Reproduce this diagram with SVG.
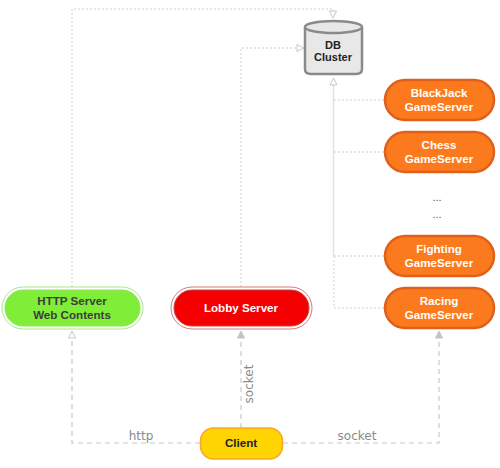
<svg xmlns="http://www.w3.org/2000/svg" width="500" height="468" viewBox="0 0 500 468">
<style>
text{font-family:"Liberation Sans",Arial,sans-serif;text-anchor:middle}
.b{font-size:11.6px;font-weight:bold}
.db{font-size:11px;font-weight:bold;fill:#222}
.w{fill:#fff}
.d{fill:#3c3c3c}
.l{font-size:12px;fill:#8a8a8a;font-family:"DejaVu Sans",sans-serif}
.g rect{fill:#fb7a1e;stroke:#e0601a;stroke-width:2.5}
.c{fill:none;stroke:#c8c8c8;stroke-width:1.2;stroke-dasharray:5 4}
.t{fill:none;stroke:#d0d0d0;stroke-width:1;stroke-dasharray:2 2}
</style>
<defs>
<marker id="h" markerUnits="userSpaceOnUse" markerWidth="9" markerHeight="10" refX="8" refY="4.5" orient="auto"><path d="M1,1L8,4.5L1,8Z" fill="#fff" stroke="#c8c8c8"/></marker>
<marker id="f" markerUnits="userSpaceOnUse" markerWidth="9" markerHeight="10" refX="8" refY="4.5" orient="auto"><path d="M1,1L8,4.5L1,8Z" fill="#c4c4c4" stroke="#c4c4c4"/></marker>
</defs>
<rect width="500" height="468" fill="#fff"/>
<g id="connectors">
<path class="t" d="M72,287V9H333V18" marker-end="url(#h)"/>
<path class="t" d="M241,287V48H304" marker-end="url(#h)"/>
<path d="M333.500,256V78" fill="none" stroke="#e2e2e2" stroke-width="1.500" marker-end="url(#h)"/>
<path class="t" d="M334,100H384M334,152H384M334,256H384M384,308H334V256"/>
<path class="c" d="M200,443H72V331" marker-end="url(#h)"/>
<path class="c" d="M241,428V331" marker-end="url(#f)"/>
<path class="c" d="M283,443H439V331" marker-end="url(#f)"/>
</g>
<text class="l" x="141" y="440">http</text>
<text class="l" x="357" y="440">socket</text>
<text class="l" transform="translate(253,384) rotate(-90)">socket</text>
<g id="http-server">
<rect x="2" y="287" width="141" height="42" rx="21" fill="#fff" stroke="#a8e88a"/>
<rect x="5" y="290" width="135" height="36" rx="18" fill="#80ee38" stroke="#8fe060"/>
<text class="b d" x="72" y="305">HTTP Server</text><text class="b d" x="72" y="319">Web Contents</text>
</g>
<g id="lobby-server">
<rect x="171" y="287" width="141" height="42" rx="21" fill="#fff" stroke="#d67a7a"/>
<rect x="174" y="290" width="135" height="36" rx="18" fill="#f50000" stroke="#c84040"/>
<text class="b w" x="241" y="312">Lobby Server</text>
</g>
<g id="client">
<rect x="200.500" y="428" width="82" height="31" rx="13" fill="#ffd400" stroke="#f9a825" stroke-width="1.500"/>
<text class="b" x="241" y="447" fill="#222">Client</text>
</g>
<g id="db-cluster">
<path d="M305,28V69Q305,74 311,74H356Q362,74 362,69V28Z" fill="#e8e8e8" stroke="#8a8a8a" stroke-width="2.500"/>
<ellipse cx="333.500" cy="27" rx="28.500" ry="6" fill="#e8e8e8" stroke="#8a8a8a" stroke-width="2.500"/>
<text class="db" x="333" y="49">DB</text><text class="db" x="333" y="61">Cluster</text>
</g>
<g id="blackjack" class="g"><rect x="385" y="80" width="109" height="40" rx="20"/><text class="b w" x="439" y="97">BlackJack</text><text class="b w" x="439" y="111">GameServer</text></g>
<g id="chess" class="g"><rect x="385" y="132" width="109" height="40" rx="20"/><text class="b w" x="439" y="149">Chess</text><text class="b w" x="439" y="163">GameServer</text></g>
<g id="fighting" class="g"><rect x="385" y="236" width="109" height="40" rx="20"/><text class="b w" x="439" y="253">Fighting</text><text class="b w" x="439" y="267">GameServer</text></g>
<g id="racing" class="g"><rect x="385" y="288" width="109" height="40" rx="20"/><text class="b w" x="439" y="305">Racing</text><text class="b w" x="439" y="319">GameServer</text></g>
<text x="437" y="201" font-size="11" fill="#555">...</text>
<text x="437" y="218" font-size="11" fill="#555">...</text>
</svg>
